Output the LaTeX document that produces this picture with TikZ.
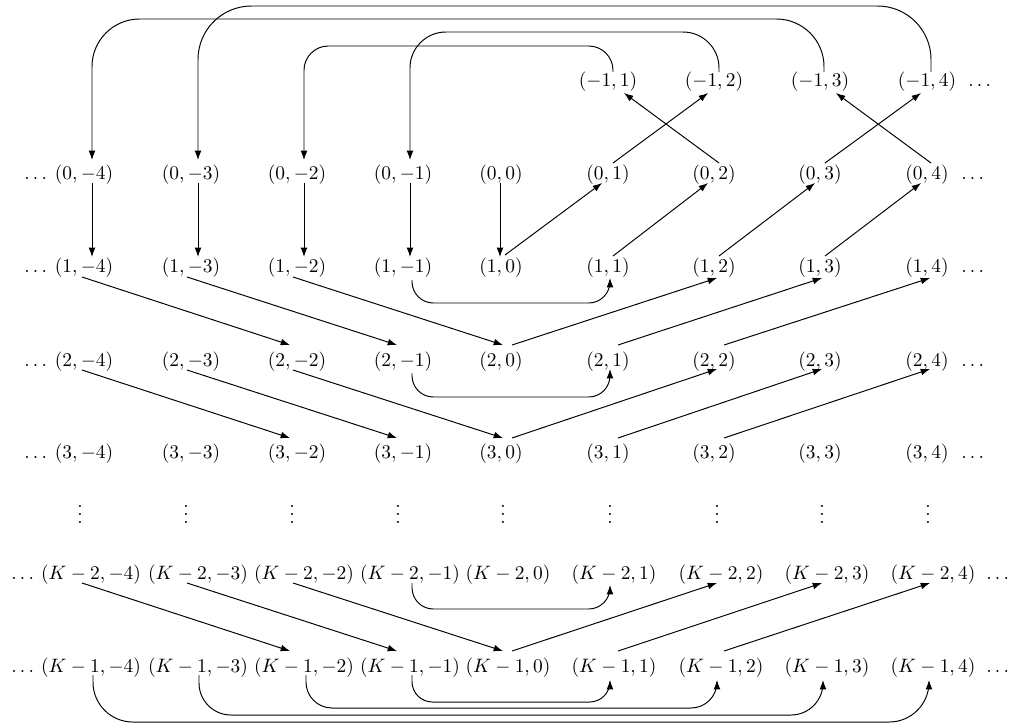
\documentclass[tikz,border=0pt]{standalone}
\usetikzlibrary{arrows.meta,calc}
\begin{document}
\begin{tikzpicture}[x=0.515pt,y=-0.515pt,
  lab/.style={inner sep=0pt},
  arr/.style={-{Latex[length=4.8pt,width=3.5pt]}, line width=0.5pt}]
\useasboundingbox (0,0) rectangle (1014,727);

% row -1
\foreach \n/\x/\t in {p1/608/1, p2/714/2, p3/820/3, p4/927/4}
  \node[lab] (rT\n) at (\x,82) {$(-1,\t)$};
\node[lab] (dRT) at (978,82) {$\vphantom{(}\ldots$};

% rows 0 to 3
\foreach \r/\y in {0/175, 1/268, 2/362, 3/454} {
  \foreach \n/\x/\t in {m4/84/-4, m3/191/-3, m2/297/-2, m1/403/-1, z/501/0,
                        p1/608/1, p2/714/2, p3/820/3, p4/927/4}
    \node[lab] (r\r\n) at (\x,\y) {$(\r,\t)$};
  \node[lab] (dL\r) at (34,\y) {$\vphantom{(}\ldots$};
  \node[lab] (dR\r) at (971,\y) {$\vphantom{(}\ldots$};
}

% vertical dots
\foreach \n/\x in {m4/80, m3/186, m2/292, m1/398, z/503, p1/610, p2/717, p3/822, p4/928}
  \node[lab, anchor=base] (v\n) at (\x,523) {$\vdots$};

% rows K-2 and K-1
\foreach \r/\k/\y in {A/2/575, B/1/668} {
  \foreach \n/\x/\t in {m4/91/-4, m3/198/-3, m2/304/-2, m1/410/-1, z/508/0,
                        p1/614/1, p2/721/2, p3/827/3, p4/933/4}
    \node[lab] (r\r\n) at (\x,\y) {$(K-\k,\t)$};
  \node[lab] (dL\r) at (21,\y) {$\vphantom{(}\ldots$};
  \node[lab] (dR\r) at (996,\y) {$\vphantom{(}\ldots$};
}

% loops over the top: row -1 back to row 0
\draw[arr, rounded corners=12.5pt] ($(rTp1)+(5,-10)$) -- ++(0,-26) -| ($(r0m2)+(7,-15)$);
\draw[arr, rounded corners=18.5pt] ($(rTp2)+(5,-10)$) -- ++(0,-40) -| ($(r0m1)+(7,-15)$);
\draw[arr, rounded corners=24.5pt] ($(rTp3)+(4,-10)$) -- ++(0,-53) -| ($(r0m4)+(8,-15)$);
\draw[arr, rounded corners=27.5pt] ($(rTp4)+(4,-10)$) -- ++(0,-66) -| ($(r0m3)+(7,-15)$);

% crossing arrows: row 0 up to row -1
\draw[arr] ($(r0p1)+(5,-12)$) -- ($(rTp2)+(-6,11)$);
\draw[arr] ($(r0p2)+(5,-12)$) -- ($(rTp1)+(16,11)$);
\draw[arr] ($(r0p3)+(5,-12)$) -- ($(rTp4)+(-6,11)$);
\draw[arr] ($(r0p4)+(4,-12)$) -- ($(rTp3)+(16,11)$);

% row 0 down to row 1
\draw[arr] ($(r0m4)+(8,8)$) -- ($(r1m4)+(8,-11)$);
\draw[arr] ($(r0m3)+(7,8)$) -- ($(r1m3)+(7,-11)$);
\draw[arr] ($(r0m2)+(7,8)$) -- ($(r1m2)+(7,-11)$);
\draw[arr] ($(r0m1)+(7,8)$) -- ($(r1m1)+(7,-11)$);
\draw[arr] ($(r0z)+(-1,8)$) -- ($(r1z)+(-1,-11)$);

% row 1 up to row 0
\draw[arr] ($(r1z)+(4,-13)$) -- ($(r0p1)+(-6,8)$);
\draw[arr] ($(r1p1)+(5,-12)$) -- ($(r0p2)+(-6,8)$);
\draw[arr] ($(r1p2)+(5,-12)$) -- ($(r0p3)+(-5,8)$);
\draw[arr] ($(r1p3)+(5,-12)$) -- ($(r0p4)+(-6,8)$);

% row 1 to row 2
\draw[arr] ($(r1m4)+(-2,9)$) -- ($(r2m2)+(-7,-17)$);
\draw[arr] ($(r1m3)+(-4,9)$) -- ($(r2m1)+(-6,-17)$);
\draw[arr] ($(r1m2)+(-4,9)$) -- ($(r2z)+(2,-17)$);
\draw[arr] ($(r2z)+(11,-17)$) -- ($(r1p2)+(3,10)$);
\draw[arr] ($(r2p1)+(10,-17)$) -- ($(r1p3)+(2,10)$);
\draw[arr] ($(r2p2)+(10,-17)$) -- ($(r1p4)+(3,10)$);
\draw[arr, rounded corners=11pt] ($(r1m1)+(9,12)$) -- ++(0,23) -| ($(r1p1)+(2,10)$);

% row 2 to row 3
\draw[arr] ($(r2m4)+(-2,8)$) -- ($(r3m2)+(-7,-16)$);
\draw[arr] ($(r2m3)+(-4,8)$) -- ($(r3m1)+(-6,-16)$);
\draw[arr] ($(r2m2)+(-4,8)$) -- ($(r3z)+(2,-16)$);
\draw[arr] ($(r3z)+(11,-16)$) -- ($(r2p2)+(3,7)$);
\draw[arr] ($(r3p1)+(10,-16)$) -- ($(r2p3)+(2,7)$);
\draw[arr] ($(r3p2)+(10,-16)$) -- ($(r2p4)+(3,7)$);
\draw[arr, rounded corners=11pt] ($(r2m1)+(9,11)$) -- ++(0,24) -| ($(r2p1)+(2,7)$);

% row K-2 to row K-1
\draw[arr] ($(rAm4)+(-9,8)$) -- ($(rBm2)+(-14,-17)$);
\draw[arr] ($(rAm3)+(-11,8)$) -- ($(rBm1)+(-13,-17)$);
\draw[arr] ($(rAm2)+(-11,8)$) -- ($(rBz)+(-5,-17)$);
\draw[arr] ($(rBz)+(4,-17)$) -- ($(rAp2)+(-4,8)$);
\draw[arr] ($(rBp1)+(4,-17)$) -- ($(rAp3)+(-5,8)$);
\draw[arr] ($(rBp2)+(3,-17)$) -- ($(rAp4)+(-3,8)$);
\draw[arr, rounded corners=11pt] ($(rAm1)+(2,8)$) -- ++(0,26) -| ($(rAp1)+(-4,10)$);

% loops under row K-1
\draw[arr, rounded corners=10.5pt] ($(rBm1)+(2,7)$) -- ++(0,27) -| ($(rBp1)+(-4,12)$);
\draw[arr, rounded corners=13.4pt] ($(rBm2)+(2,7)$) -- ++(0,33) -| ($(rBp2)+(-4,12)$);
\draw[arr, rounded corners=16.5pt] ($(rBm3)+(1,7)$) -- ++(0,40) -| ($(rBp3)+(-4,12)$);
\draw[arr, rounded corners=20.5pt] ($(rBm4)+(2,7)$) -- ++(0,47) -| ($(rBp4)+(-4,12)$);
\end{tikzpicture}
\end{document}
